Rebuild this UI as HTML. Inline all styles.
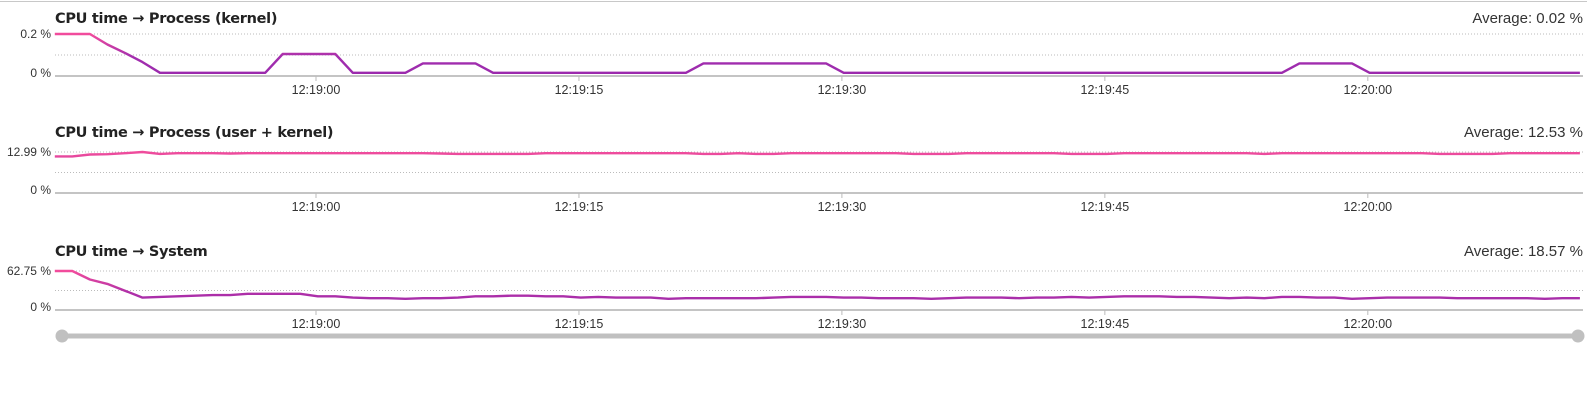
<!DOCTYPE html>
<html><head><meta charset="utf-8"><style>
body{margin:0;background:#fff;width:1587px;height:405px;overflow:hidden;font-family:"Liberation Sans",sans-serif}
svg{display:block}
</style></head><body>
<svg id="s" width="1587" height="405">
<defs>
<linearGradient id="g1" gradientUnits="userSpaceOnUse" x1="0" y1="34" x2="0" y2="76"><stop offset="0" stop-color="#f24c9c"/><stop offset="0.55" stop-color="#a32eae"/><stop offset="1" stop-color="#9a2aad"/></linearGradient>
<linearGradient id="g2" gradientUnits="userSpaceOnUse" x1="0" y1="152" x2="0" y2="193"><stop offset="0" stop-color="#f04c9c"/><stop offset="1" stop-color="#9a2aad"/></linearGradient>
<linearGradient id="g3" gradientUnits="userSpaceOnUse" x1="0" y1="271" x2="0" y2="310"><stop offset="0" stop-color="#f24c9c"/><stop offset="0.55" stop-color="#b030a8"/><stop offset="1" stop-color="#9a2aad"/></linearGradient>
</defs>
<line x1="0" y1="1.5" x2="1587" y2="1.5" stroke="#c8c8c8" stroke-width="1"/>
</svg>
<script>
const tickLabels=["12:19:00","12:19:15","12:19:30","12:19:45","12:20:00"];
const tickSeconds=[0,15,30,45,60];
const kernelVals=[0.2,0.2,0.2,0.15,0.11,0.066,0.015,0.015,0.015,0.015,0.015,0.015,0.015,0.105,0.105,0.105,0.105,0.015,0.015,0.015,0.015,0.06,0.06,0.06,0.06,0.015,0.015,0.015,0.015,0.015,0.015,0.015,0.015,0.015,0.015,0.015,0.015,0.06,0.06,0.06,0.06,0.06,0.06,0.06,0.06,0.015,0.015,0.015,0.015,0.015,0.015,0.015,0.015,0.015,0.015,0.015,0.015,0.015,0.015,0.015,0.015,0.015,0.015,0.015,0.015,0.015,0.015,0.015,0.015,0.015,0.015,0.06,0.06,0.06,0.06,0.015,0.015,0.015,0.015,0.015,0.015,0.015,0.015,0.015,0.015,0.015,0.015,0.015];
const userKernelVals=[11.6,11.6,12.2,12.3,12.6,12.99,12.4,12.6,12.6,12.6,12.5,12.6,12.6,12.6,12.6,12.6,12.6,12.6,12.6,12.6,12.6,12.6,12.5,12.4,12.4,12.4,12.4,12.4,12.6,12.6,12.6,12.6,12.6,12.6,12.6,12.6,12.6,12.4,12.4,12.6,12.4,12.4,12.6,12.6,12.6,12.6,12.6,12.6,12.6,12.4,12.4,12.4,12.6,12.6,12.6,12.6,12.6,12.6,12.4,12.4,12.4,12.6,12.6,12.6,12.6,12.6,12.6,12.6,12.6,12.4,12.6,12.6,12.6,12.6,12.6,12.6,12.6,12.6,12.6,12.4,12.4,12.4,12.4,12.6,12.6,12.6,12.6,12.6];
const systemVals=[62.75,62.75,49,42,31,20,21,22,23,24,24,26,26,26,26,22,22,20,19,19,18,19,19,20,22,22,23,23,22,22,20,21,20,20,20,18,19,19,19,19,19,20,21,21,21,20,20,19,19,19,18,19,20,20,20,19,20,20,21,20,21,22,22,22,21,21,20,19,20,19,21,21,20,20,18,19,20,20,20,20,19,19,19,19,19,18,19,19];
const titles=["CPU time \u2192 Process (kernel)","CPU time \u2192 Process (user + kernel)","CPU time \u2192 System"];
const averages=["Average: 0.02 %","Average: 12.53 %","Average: 18.57 %"];
const maxLabels=["0.2 %","12.99 %","62.75 %"];
const maxVals=[0.2,12.99,62.75];
const series=[kernelVals,userKernelVals,systemVals];

const svg=document.getElementById('s');
const NS="http://www.w3.org/2000/svg";
const X0=55,X1=1583,T0=316,PPS=17.53,START=-14.9;
const layout=[{t:23,top:34,base:76,g:'g1'},{t:137,top:152,base:193,g:'g2'},{t:256,top:271,base:310,g:'g3'}];
function mk(tag,attrs,parent){const e=document.createElementNS(NS,tag);for(const k in attrs)e.setAttribute(k,attrs[k]);(parent||svg).appendChild(e);return e;}
function xTime(s){return T0+s*PPS;}
function xIdx(i){return xTime(START+i);}
const names=["kernel","user-kernel","system"];
layout.forEach((L,c)=>{
  const g=mk('g',{});
  
  
  const yS=v=>L.base-(v/maxVals[c])*(L.base-L.top);
  let t=mk('text',{x:X0,y:L.t,'font-size':'14.5','font-weight':'bold',fill:'#222','font-family':'"DejaVu Sans","Liberation Sans",sans-serif','letter-spacing':'-0.3'},g);t.textContent=titles[c];
  
  t=mk('text',{x:X1,y:L.t,'font-size':'15',fill:'#333','text-anchor':'end'},g);t.textContent=averages[c];
  
  [maxVals[c],maxVals[c]/2].forEach(v=>{const l=mk('line',{x1:X0,x2:X1,y1:yS(v),y2:yS(v),stroke:'#bbb','stroke-dasharray':'1,2','stroke-width':'1'},g);
    });
  const b=mk('line',{x1:X0,x2:X1,y1:L.base,y2:L.base,stroke:'#c4c4c4','stroke-width':'2'},g);
  
  t=mk('text',{x:51,y:yS(maxVals[c])+4,'font-size':'12',fill:'#333','text-anchor':'end'},g);t.textContent=maxLabels[c];
  
  t=mk('text',{x:51,y:L.base+1,'font-size':'12',fill:'#333','text-anchor':'end'},g);t.textContent="0 %";
  
  tickSeconds.forEach((s,i)=>{const x=xTime(s);
    const tk=mk('line',{x1:x,x2:x,y1:L.base,y2:L.base+5,stroke:'#bbb'},g);
    
    const tl=mk('text',{x:x,y:L.base+18,'font-size':'12.5',fill:'#333','text-anchor':'middle'},g);tl.textContent=tickLabels[i];
    });
  const pts=series[c].map((v,i)=>xIdx(i).toFixed(1)+','+yS(v).toFixed(1)).join(' ');
  const p=mk('polyline',{points:pts,fill:'none',stroke:'url(#'+L.g+')','stroke-width':'2.4','stroke-linejoin':'round'},g);
  
});
const tr=mk('line',{x1:62,x2:1578,y1:336,y2:336,stroke:'#c0c0c0','stroke-width':'5'});

const h1=mk('circle',{cx:62,cy:336,r:6.5,fill:'#c0c0c0'});

const h2=mk('circle',{cx:1578,cy:336,r:6.5,fill:'#c0c0c0'});

</script>
</body></html>
